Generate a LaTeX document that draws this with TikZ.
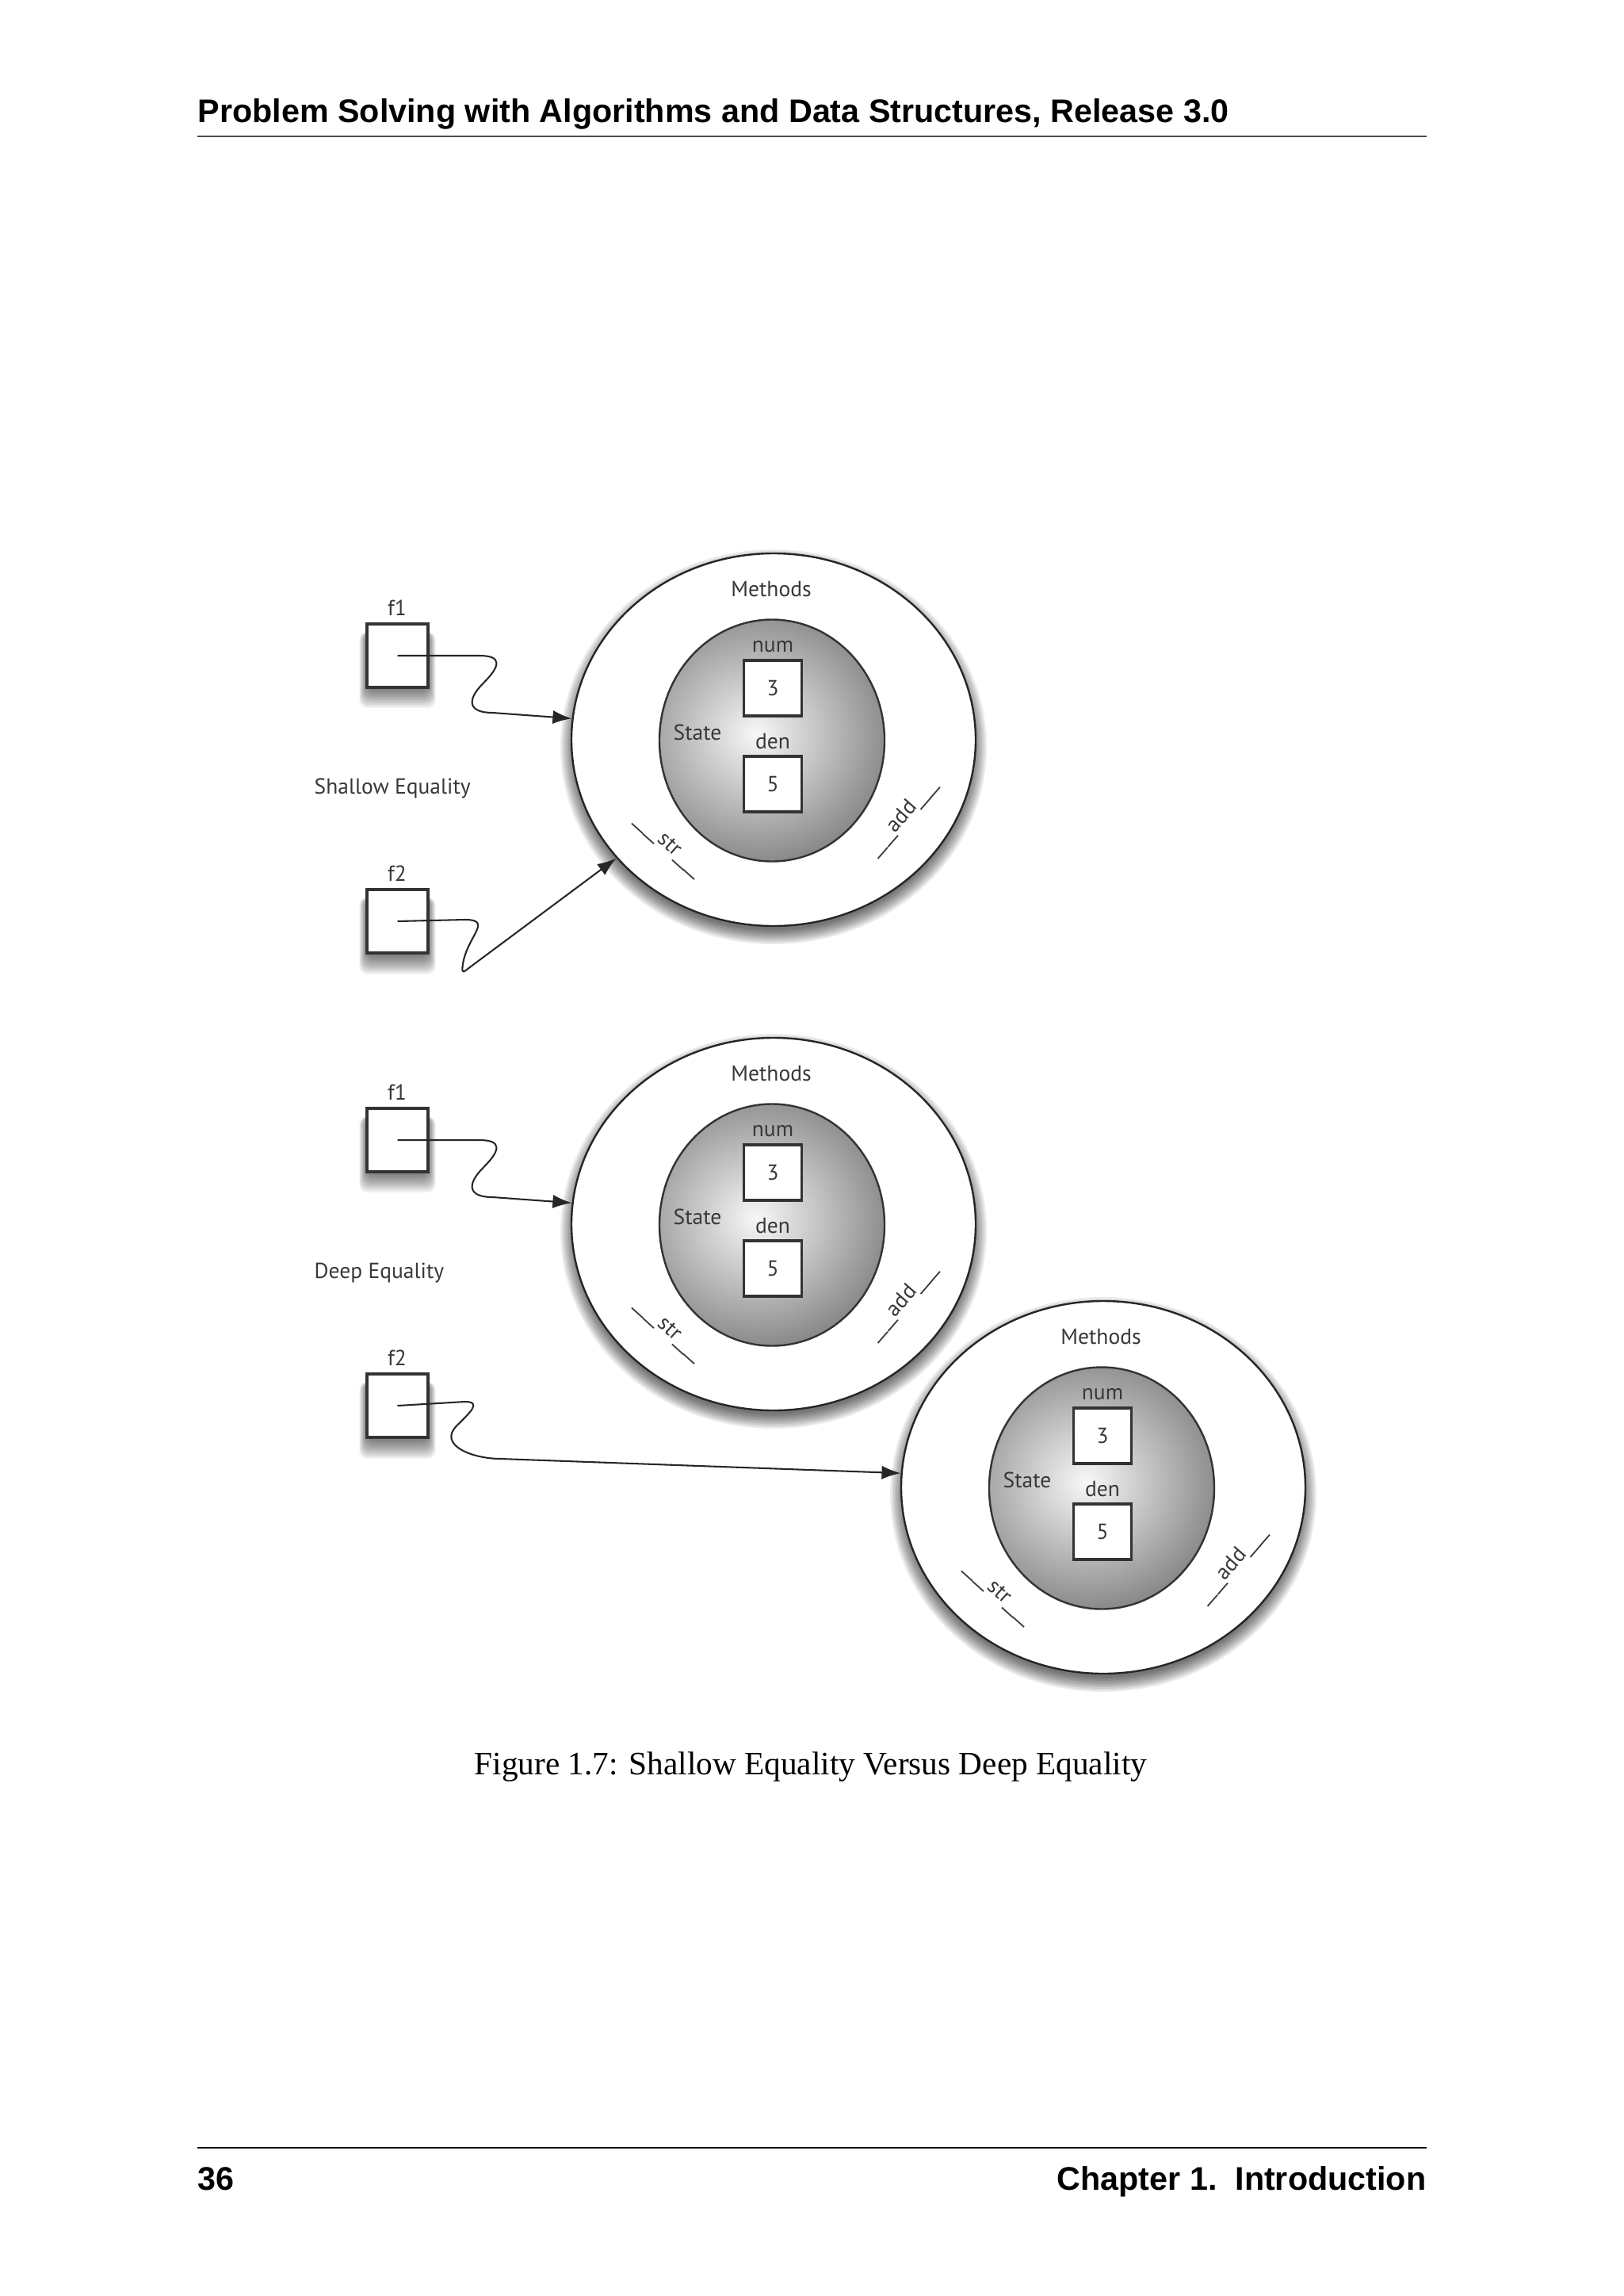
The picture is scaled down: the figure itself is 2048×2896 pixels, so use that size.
\documentclass[tikz,border=0pt]{standalone}
\usepackage{fontspec}
\usepackage{graphicx}
\setmainfont{Liberation Serif}
\newfontfamily\headfont{Liberation Sans}
\newfontfamily\figfont{PT Sans}
\usetikzlibrary{shapes.geometric,arrows.meta}
\newcommand{\pxl}{0.29067pt}
\newcommand{\twounder}{\scalebox{1.7}[1]{\_\_}}

\begin{document}
\begin{tikzpicture}[x=0.29067pt,y=-0.29067pt,
  lbl/.style={font=\figfont\fontsize{8}{9}\selectfont,text=black!78,inner sep=0pt},
  refbox/.style={draw=black!80,line width=0.9pt,fill=white,minimum width=77*\pxl,minimum height=80*\pxl,inner sep=0pt},
  valbox/.style={draw=black!80,line width=0.9pt,fill=white,minimum width=73*\pxl,minimum height=70*\pxl,inner sep=0pt,font=\figfont\fontsize{8}{9}\selectfont,text=black!78},
  objring/.style={ellipse,draw=black!85,line width=0.7pt,fill=white,minimum width=510*\pxl,minimum height=470*\pxl,inner sep=0pt},
  objstate/.style={ellipse,draw=black!80,line width=0.7pt,minimum width=284*\pxl,minimum height=305*\pxl,inner sep=0pt,
    path picture={\shade[inner color=white!97!black,outer color=black!55] ([shift={(-20,-8)}]path picture bounding box.center) ellipse [x radius=205,y radius=195];}},
  shadowfill/.style={fill=black,opacity=0.07},
  boxshadow/.style={fill=black,opacity=0.05,rounded corners=3pt},
  pagetext/.style={font=\headfont\bfseries\fontsize{12}{14}\selectfont,inner sep=0pt},
  ptr/.style={line width=0.6pt,black!85,-{Latex[length=7pt,width=5pt]}}]
\useasboundingbox (0,0) rectangle (2048,2896);
\fill[white] (0,0) rectangle (2048,2896);

% page head and foot
\node[pagetext,anchor=base west] (head) at (249,154) {Problem Solving with Algorithms and Data Structures, Release 3.0};
\draw[black!70,line width=0.6pt] (249,172) -- (1800,172);
\draw[black,line width=0.5pt] (249,2709) -- (1800,2709);
\node[pagetext,anchor=base west] (pnum) at (249,2762) {36};
\node[pagetext,anchor=base east] (chap) at (1800,2762) {Chapter 1.\ \ Introduction};
\node[font=\fontsize{12}{14}\selectfont,anchor=base,inner sep=0pt] (cap) at (1023,2238) {Figure 1.7: Shallow Equality Versus Deep Equality};

% the three objects
\foreach \n/\ox/\oy in {1/0/0,2/0/611,3/416/943}{
  \foreach \s in {1,...,10}
    \fill[shadowfill] (976+\ox,942+\oy) ellipse [x radius=249+2*\s,y radius=229+2*\s];
  \node[objring] (obj\n) at (976+\ox,933+\oy) {};
  \node[objstate] (state\n) at (974+\ox,934+\oy) {};
  \node[lbl] (meth\n) at (973+\ox,743+\oy) {Methods};
  \node[lbl] (num\n) at (975+\ox,816+\oy) {num};
  \node[valbox] (three\n) at (975+\ox,868+\oy) {3};
  \node[lbl] (den\n) at (975+\ox,935+\oy) {den};
  \node[valbox] (five\n) at (975+\ox,989+\oy) {5};
  \node[lbl] (st\n) at (880+\ox,924+\oy) {State};
  \node[lbl,rotate=-42,anchor=base] (str\n) at (840+\ox,1071+\oy) {\twounder str\twounder};
  \node[lbl,rotate=49,anchor=base] (add\n) at (1144+\ox,1035+\oy) {\twounder add\twounder};
}

% references f1 and f2
\foreach \n/\oy/\kind in {1/0/Shallow Equality,2/611/Deep Equality}{
  \foreach \s in {1,...,12}{
    \fill[boxshadow] (463-0.8*\s,797+\oy) rectangle (540+0.8*\s,869+\oy+2*\s);
    \fill[boxshadow] (463-0.8*\s,1132+\oy) rectangle (540+0.8*\s,1205+\oy+2*\s);
  }
  \node[lbl] (lone\n) at (501,767+\oy) {f1};
  \node[refbox] (fone\n) at (501.5,827+\oy) {};
  \node[lbl] (ltwo\n) at (501,1102+\oy) {f2};
  \node[refbox] (ftwo\n) at (501.5,1162+\oy) {};
  \node[lbl,anchor=west] (eq\n) at (396,995+\oy) {\kind};
  \draw[ptr] (fone\n.center) -- ++(103,0) to[out=0,in=45,looseness=2.2] ++(5,35)
    to[out=225,in=180,looseness=2] ++(12,37) -- (obj\n.174);
}
\draw[ptr] (ftwo1.center) -- ++(85,-2) to[out=0,in=85,looseness=1.6] ++(-3,60)
  .. controls +(-1,9) and +(-5,4) .. ++(8,1) -- (obj1.217);
\draw[ptr] (ftwo2.center) -- ++(85,-5) to[out=0,in=45,looseness=1.8] ++(-10,30)
  to[out=225,in=180,looseness=1.3] ++(55,42) -- (obj3.176);
\end{tikzpicture}
\end{document}
